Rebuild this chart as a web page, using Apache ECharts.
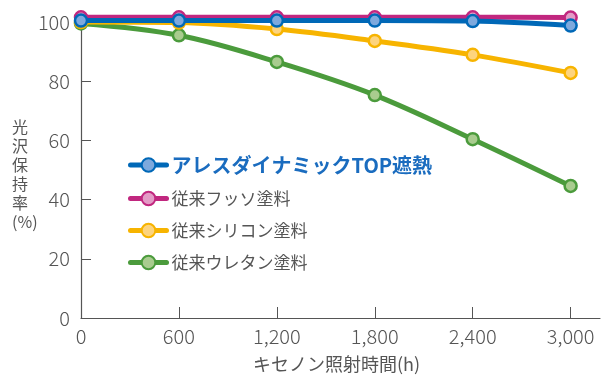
<!DOCTYPE html>
<html>
<head>
<meta charset="utf-8">
<script src="https://cdn.jsdelivr.net/npm/echarts@6/dist/echarts.min.js"></script>
<style>
  html, body { margin: 0; padding: 0; background: #fff; }
  #chart { width: 601px; height: 378px; }
</style>
</head>
<body>
<div id="chart"></div>
<script>
// キセノン照射時間(h)
const hours = [0, 600, 1200, 1800, 2400, 3000];
const xTicks = [0, 600, 1200, 1800, 2400, 3000];

const seriesNames = ['アレスダイナミックTOP遮熱', '従来フッソ塗料', '従来シリコン塗料', '従来ウレタン塗料'];
const aresValues = [100.5, 100.5, 100.5, 100.5, 100.3, 98.8];
const fluorineValues = [101.6, 101.6, 101.6, 101.6, 101.6, 101.5];
const siliconeValues = [100, 99.8, 97.6, 93.6, 88.9, 82.8];
const urethaneValues = [99.5, 95.5, 86.5, 75.3, 60.4, 44.6];

const lineColors = ['#0068b7', '#c1277f', '#f7b400', '#4b9b3c'];
const dotColors = ['#7ea9dd', '#e39bc6', '#fdd47e', '#a9cc8f'];

const font = '"Noto Sans CJK JP", "Open Sans", sans-serif';
const chart = echarts.init(document.getElementById('chart'));

const allValues = [aresValues, fluorineValues, siliconeValues, urethaneValues];
const zOrder = [6, 5, 4, 3];

const series = seriesNames.map((name, i) => ({
    name: name,
    type: 'line',
    smooth: 0.35,
    clip: false,
    z: zOrder[i],
    symbol: 'circle',
    symbolSize: 12,
    lineStyle: { color: lineColors[i], width: 5 },
    itemStyle: { color: dotColors[i], borderColor: lineColors[i], borderWidth: 2.5 },
    data: hours.map((h, k) => [h, allValues[i][k]])
}));

chart.setOption({
    animation: false,
    grid: { left: 81, right: 1, top: 22, bottom: 60 },
    xAxis: {
        type: 'value',
        min: 0,
        max: 3180,
        axisLine: { lineStyle: { color: '#555', width: 1.2 } },
        axisTick: { inside: true, length: 11, lineStyle: { color: '#555' }, customValues: xTicks },
        splitLine: { show: false },
        axisLabel: {
            customValues: xTicks,
            margin: 8,
            color: '#555',
            fontSize: 20,
            fontWeight: 300,
            fontFamily: font,
            formatter: v => v.toLocaleString('en-US')
        }
    },
    yAxis: {
        type: 'value',
        min: 0,
        max: 100,
        interval: 20,
        axisLine: { show: true, lineStyle: { color: '#555', width: 1.2 } },
        axisTick: { show: true, inside: true, length: 10, lineStyle: { color: '#555' } },
        splitLine: { show: false },
        axisLabel: {
            margin: 11,
            color: '#555',
            fontSize: 20,
            fontWeight: 300,
            fontFamily: font
        }
    },
    legend: {
        orient: 'vertical',
        left: 123,
        top: 150,
        itemGap: 15,
        itemWidth: 36,
        itemHeight: 17,
        data: seriesNames,
        lineStyle: { width: 5, cap: 'round' },
        formatter: name => name === seriesNames[0] ? '{b|' + name + '}' : '{n|' + name + '}',
        textStyle: {
            rich: {
                b: { color: '#1a6cbf', fontSize: 20, fontWeight: 'bold', fontFamily: font },
                n: { color: '#555', fontSize: 17, fontFamily: font }
            }
        }
    },
    graphic: [
        {
            type: 'text',
            left: 12,
            top: 117,
            style: {
                text: '光\n沢\n保\n持\n率\n(%)',
                fill: '#555',
                font: '16px ' + font,
                lineHeight: 19,
                align: 'center'
            }
        },
        {
            type: 'text',
            left: 253,
            top: 355,
            style: {
                text: 'キセノン照射時間(h)',
                fill: '#555',
                font: '18px ' + font
            }
        }
    ],
    series: series
});
</script>
</body>
</html>
